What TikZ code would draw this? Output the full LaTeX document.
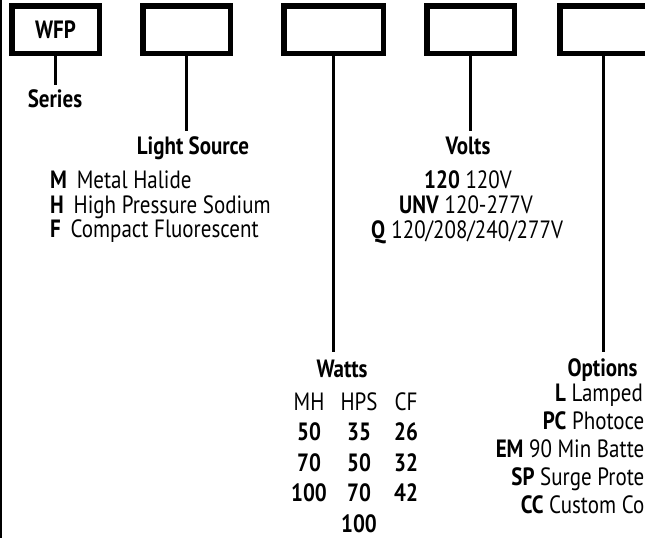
\documentclass[tikz,border=0pt]{standalone}
\usepackage{fontspec}
\setmainfont{PT Sans}[FakeStretch=0.84]
\begin{document}
\begin{tikzpicture}[x=1pt,y=-1pt,
  box/.style={draw, line width=5.5pt, inner sep=0pt, minimum height=47.5pt, minimum width=87.5pt},
  conn/.style={line width=3pt},
  txt/.style={inner sep=0pt, font=\fontsize{25}{29}\selectfont},
  hd/.style={inner sep=0pt, font=\fontsize{25}{29}\selectfont\bfseries}]
\useasboundingbox (0,0) rectangle (645,538);
% left edge
\coordinate (lt) at (1,0);
\coordinate (lb) at (1,538);
\draw[line width=2pt] (lt) -- (lb);
% boxes
\node[box, font=\fontsize{25}{29}\selectfont\bfseries] (b1) at (55.5,29.5) {WFP};
\node[box] (b2) at (186.5,29.5) {};
\node[box, minimum width=99.5pt] (b3) at (333.5,29.5) {};
\node[box] (b4) at (470.5,29.5) {};
\node[box] (b5) at (603.5,29.5) {};
% connector ends
\coordinate (e1) at (55.5,85);
\coordinate (e2) at (186.5,131);
\coordinate (e3) at (333.5,352);
\coordinate (e4) at (470.5,131);
\coordinate (e5) at (603.5,352);
\draw[conn] (b1.south) -- (e1);
\draw[conn] (b2.south) -- (e2);
\draw[conn] (b3.south) -- (e3);
\draw[conn] (b4.south) -- (e4);
\draw[conn] (b5.south) -- (e5);
% Series
\node[hd, anchor=base] (series) at (55,107) {Series};
% Light source
\node[hd, anchor=base] (lsrc) at (193,154) {Light Source};
\node[txt, anchor=base west] (lm) at (50,188) {\textbf{M}\, Metal Halide};
\node[txt, anchor=base west] (lh) at (50,213) {\textbf{H}\, High Pressure Sodium};
\node[txt, anchor=base west] (lf) at (50,237.5) {\textbf{F}\, Compact Fluorescent};
% Volts
\node[hd, anchor=base] (volts) at (468,154) {Volts};
\node[txt, anchor=base] (v1) at (468,188) {\textbf{120} 120V};
\node[txt, anchor=base] (v2) at (466,213) {\textbf{UNV} 120-277V};
\node[txt, anchor=base] (v3) at (467,238) {\textbf{Q} 120/208/240/277V};
% Watts
\node[hd, anchor=base] (watts) at (342,377) {Watts};
\node[txt, anchor=base] (wmh) at (309,410) {MH};
\node[txt, anchor=base] (whps) at (359,410) {HPS};
\node[txt, anchor=base] (wcf) at (406,410) {CF};
\node[hd, anchor=base] (w11) at (309,440) {50};
\node[hd, anchor=base] (w12) at (359,440) {35};
\node[hd, anchor=base] (w13) at (406,440) {26};
\node[hd, anchor=base] (w21) at (309,471) {70};
\node[hd, anchor=base] (w22) at (359,471) {50};
\node[hd, anchor=base] (w23) at (406,471) {32};
\node[hd, anchor=base] (w31) at (309,501) {100};
\node[hd, anchor=base] (w32) at (359,501) {70};
\node[hd, anchor=base] (w33) at (406,501) {42};
\node[hd, anchor=base] (w42) at (359,532) {100};
% Options
\node[hd, anchor=base] (opts) at (602.5,376.5) {Options};
\node[txt, anchor=base east] (o1) at (643,401) {\textbf{L} Lamped};
\node[txt, anchor=base east] (o2) at (644.5,429) {\textbf{PC} Photoce};
\node[txt, anchor=base east] (o3) at (644.5,457) {\textbf{EM} 90 Min Batte};
\node[txt, anchor=base east] (o4) at (644.5,485) {\textbf{SP} Surge Prote};
\node[txt, anchor=base east] (o5) at (644.5,513.5) {\textbf{CC} Custom Co};
\end{tikzpicture}
\end{document}
